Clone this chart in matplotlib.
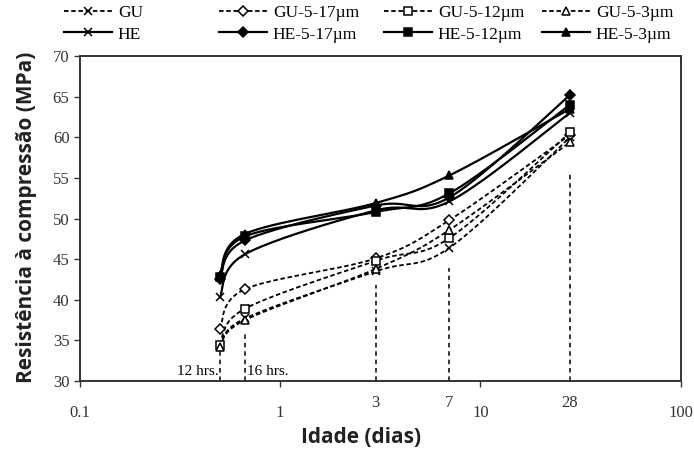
import numpy as np
import matplotlib
matplotlib.use('Agg')
import matplotlib.pyplot as plt
from matplotlib.lines import Line2D

plt.rcParams.update({
    'font.family': 'Liberation Serif',
    'font.size': 11,
})

# ages in days: 12 h, 16 h, 3, 7, 28
ages = [0.5, 16/24, 3, 7, 28]

gu = [34.3, 37.7, 43.5, 46.4, 60.0]
gu_17 = [36.4, 41.3, 45.1, 49.8, 60.3]
gu_12 = [34.5, 38.9, 44.8, 47.6, 60.6]
gu_3 = [34.2, 37.5, 43.8, 48.6, 59.4]
he = [40.3, 45.6, 51.0, 52.1, 63.0]
he_17 = [42.5, 47.3, 51.6, 52.6, 65.2]
he_12 = [42.8, 47.8, 50.8, 53.1, 64.0]
he_3 = [43.1, 48.1, 51.9, 55.3, 63.5]

guide_tops = [34.0, 35.9, 41.8, 43.9, 55.7]

series = [
    ('GU', gu, 'x', '--', 'none'),
    ('HE', he, 'x', '-', 'none'),
    ('GU-5-17µm', gu_17, 'D', '--', 'white'),
    ('HE-5-17µm', he_17, 'D', '-', 'black'),
    ('GU-5-12µm', gu_12, 's', '--', 'white'),
    ('HE-5-12µm', he_12, 's', '-', 'black'),
    ('GU-5-3µm', gu_3, '^', '--', 'white'),
    ('HE-5-3µm', he_3, '^', '-', 'black'),
]


def smooth(x, y, n=40):
    # Excel-style smoothed line: bezier with 1/6 tangents, in screen-like units
    sx = np.log10(x) * 200.0
    sy = np.asarray(y) * 8.125
    pts = np.column_stack([sx, sy])
    p = np.vstack([pts[0], pts, pts[-1]])
    out = []
    t = np.linspace(0, 1, n)[:, None]
    for i in range(1, len(p) - 2):
        p0, p1, p2, p3 = p[i-1], p[i], p[i+1], p[i+2]
        c1 = p1 + (p2 - p0) / 6.0
        c2 = p2 - (p3 - p1) / 6.0
        seg = ((1-t)**3)*p1 + 3*((1-t)**2)*t*c1 + 3*(1-t)*t**2*c2 + t**3*p2
        out.append(seg)
    out = np.vstack(out)
    return 10**(out[:, 0] / 200.0), out[:, 1] / 8.125


fig = plt.figure(figsize=(6.94, 4.51), dpi=100)
ax = fig.add_axes([0.115, 0.155, 0.866, 0.721])

for a, top in zip(ages, guide_tops):
    ax.plot([a, a], [30, top], ls=(0, (3, 2.5)), color='black', lw=1.1, zorder=1)

handles = []
for label, vals, mk, ls, fc in series:
    sx, sy = smooth(ages, vals)
    lw = 1.6 if ls == '-' else 1.3
    dash = '-' if ls == '-' else (0, (2.5, 1.5))
    ax.plot(sx, sy, color='black', lw=lw, ls=dash, zorder=2)
    ms = 6 if mk != 'D' else 5
    ax.plot(ages, vals, ls='none', marker=mk, ms=ms, mfc=fc, mec='black',
            mew=1.1, zorder=3)
    handles.append(Line2D([], [], color='black', lw=lw, ls=dash, marker=mk,
                          ms=ms, mfc=fc, mec='black', mew=1.1, label=label))

ax.set_xscale('log')
ax.set_xlim(0.1, 100)
ax.set_ylim(30, 70)
ax.set_xticks([0.1, 1, 10, 100])
ax.set_xticklabels(['0.1', '1', '10', '100'])
ax.xaxis.set_minor_locator(matplotlib.ticker.NullLocator())
ax.set_yticks(range(30, 71, 5))
ax.tick_params(axis='both', direction='out', length=4, width=1, labelsize=12,
               colors='#333333', labelcolor='#333333')
ax.tick_params(axis='x', pad=13)
for s in ax.spines.values():
    s.set_linewidth(1.4)
    s.set_color('#333333')

for a, lab in zip([3, 7, 28], ['3', '7', '28']):
    ax.text(a, 28.3, lab, ha='center', va='top', fontsize=12, color='#333333')

ax.text(0.49, 30.35, '12 hrs.', ha='right', va='bottom', fontsize=11)
ax.text(0.685, 30.35, '16 hrs.', ha='left', va='bottom', fontsize=11)

ax.set_xlabel('Idade (dias)', family='Open Sans', fontweight='bold',
              fontsize=15, color='#222222')
ax.xaxis.set_label_coords(0.468, -0.14)
ax.set_ylabel('Resistência à compressão (MPa)', family='Open Sans',
              fontweight='bold', fontsize=15, color='#222222')
ax.yaxis.set_label_coords(-0.072, 0.505)

# four legend columns, placed like the original
col_x = [64, 219, 384, 542]
for k, x0 in enumerate(col_x):
    fig.legend(handles=handles[2*k:2*k+2], loc='upper left',
               bbox_to_anchor=(x0 / 694, 1 - 5 / 451), frameon=False,
               fontsize=12.5, handlelength=2.75, handletextpad=0.35,
               labelspacing=0.3, borderaxespad=0, borderpad=0)

fig.savefig('out.png', dpi=100)
